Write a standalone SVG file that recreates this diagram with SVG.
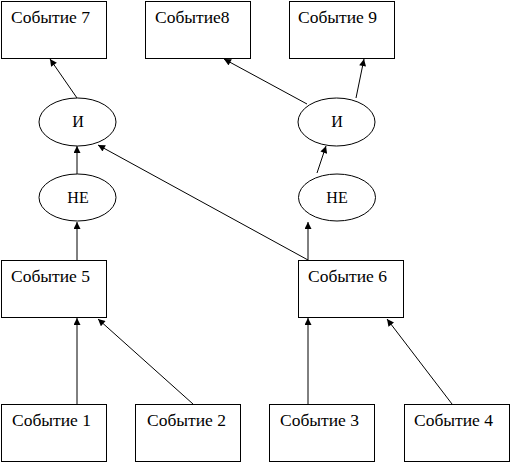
<svg xmlns="http://www.w3.org/2000/svg" width="511" height="463" viewBox="0 0 511 463">
<style>
.box{fill:#fff;stroke:#000;stroke-width:1}
.ell{fill:#fff;stroke:#000;stroke-width:1}
.t{font-family:"Liberation Serif","Times New Roman",serif;font-size:17.5px;fill:#000}
.m{font-family:"Liberation Serif","Times New Roman",serif;font-size:16px;fill:#000;text-anchor:middle}
.c{stroke:#000;stroke-width:1;fill:none;marker-end:url(#ah)}
</style>
<defs>
<marker id="ah" viewBox="0 0 10 10" refX="10" refY="5" markerWidth="8" markerHeight="7" markerUnits="userSpaceOnUse" orient="auto">
<path d="M0,0 L10,5 L0,10 z" fill="#000"/>
</marker>
</defs>
<rect width="511" height="463" fill="#fff"/>
<g id="connectors">
<line class="c" x1="77" y1="404" x2="77" y2="318"/>
<line class="c" x1="193" y1="404" x2="98" y2="319"/>
<line class="c" x1="308" y1="404" x2="308" y2="318"/>
<line class="c" x1="452" y1="404" x2="387" y2="319"/>
<line class="c" x1="77" y1="260" x2="77" y2="222"/>
<line class="c" x1="308" y1="260" x2="308" y2="222"/>
<line class="c" x1="308" y1="260" x2="98" y2="145"/>
<line class="c" x1="77" y1="174" x2="77" y2="146"/>
<line class="c" x1="317" y1="173" x2="326" y2="146"/>
<line class="c" x1="77" y1="98" x2="50" y2="59"/>
<line class="c" x1="307" y1="104" x2="224" y2="59"/>
<line class="c" x1="356" y1="98" x2="364" y2="59"/>
</g>
<g id="event7"><rect class="box" x="1.5" y="1.5" width="105" height="57"/><text class="t" x="11" y="23">Событие 7</text></g>
<g id="event8"><rect class="box" x="145.5" y="1.5" width="105" height="57"/><text class="t" x="155" y="23">Событие8</text></g>
<g id="event9"><rect class="box" x="289.5" y="1.5" width="105" height="57"/><text class="t" x="298" y="23">Событие 9</text></g>
<g id="and1"><ellipse class="ell" cx="77.5" cy="122" rx="38.5" ry="24"/><text class="m" x="78" y="127">И</text></g>
<g id="and2"><ellipse class="ell" cx="336.5" cy="122" rx="38.5" ry="24"/><text class="m" x="337" y="127">И</text></g>
<g id="not1"><ellipse class="ell" cx="77.5" cy="197.5" rx="38.5" ry="23.5"/><text class="m" x="78" y="203">НЕ</text></g>
<g id="not2"><ellipse class="ell" cx="337" cy="197.5" rx="38.5" ry="23.5"/><text class="m" x="337" y="203">НЕ</text></g>
<g id="event5"><rect class="box" x="1.5" y="260.5" width="105" height="57"/><text class="t" x="11" y="282">Событие 5</text></g>
<g id="event6"><rect class="box" x="298.5" y="260.5" width="105" height="57"/><text class="t" x="308" y="282">Событие 6</text></g>
<g id="event1"><rect class="box" x="1.5" y="404.5" width="105" height="57"/><text class="t" x="12" y="426">Событие 1</text></g>
<g id="event2"><rect class="box" x="135.5" y="404.5" width="105" height="57"/><text class="t" x="147" y="426">Событие 2</text></g>
<g id="event3"><rect class="box" x="269.5" y="404.5" width="105" height="57"/><text class="t" x="280" y="426">Событие 3</text></g>
<g id="event4"><rect class="box" x="404.5" y="404.5" width="105" height="57"/><text class="t" x="414" y="426">Событие 4</text></g>
</svg>
